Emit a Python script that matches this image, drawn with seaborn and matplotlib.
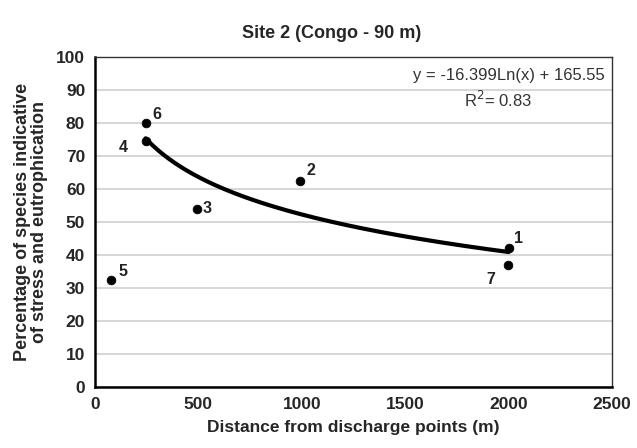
import matplotlib
matplotlib.use("Agg")
import matplotlib.pyplot as plt
import seaborn as sns
import numpy as np
import pandas as pd

# data
stations = ["1", "2", "3", "4", "5", "6", "7"]
distance = [2000, 990, 495, 245, 80, 245, 1995]
pct_species = [42, 62.5, 54, 74.5, 32.5, 80, 37]

# trendline as printed on the chart
slope, intercept = -16.399, 165.55
fit_start, fit_end = 245, 2000

# label offsets (points) for each station number
label_offsets = {"1": (4, 4), "2": (5, 4), "3": (4, -3), "4": (-19, -8),
                 "5": (5, 3), "6": (5, 3), "7": (-15, -14)}

df = pd.DataFrame({"station": stations, "distance": distance, "pct": pct_species})

sns.set_style("white")
plt.rcParams["font.family"] = ["Liberation Sans", "DejaVu Sans"]

fig = plt.figure(figsize=(6.37, 4.48), dpi=100)
ax = fig.add_axes([0.149, 0.136, 0.812, 0.737])

xs = np.linspace(fit_start, fit_end, 200)
ax.plot(xs, slope * np.log(xs) + intercept, color="black", lw=3, zorder=3)

sns.scatterplot(data=df, x="distance", y="pct", ax=ax, color="black", s=40,
                edgecolor="black", zorder=4, legend=False)

for _, r in df.iterrows():
    dx, dy = label_offsets[r["station"]]
    ax.annotate(r["station"], (r["distance"], r["pct"]), xytext=(dx, dy),
                textcoords="offset points", fontsize=11.5, fontweight="bold",
                color="#222222")

ax.text(0.985, 0.945, "y = -16.399Ln(x) + 165.55", transform=ax.transAxes,
        ha="right", va="center", fontsize=12, color="#333333")
ax.text(0.78, 0.87, "R$^2$= 0.83", transform=ax.transAxes,
        ha="center", va="center", fontsize=12, color="#333333")

ax.set_xlim(0, 2500)
ax.set_ylim(0, 100)
ax.set_xticks(range(0, 2501, 500))
ax.set_yticks(range(0, 101, 10))
ax.yaxis.grid(True, color="#d0d0d0", lw=1.2)
ax.set_axisbelow(True)

for side in ["left", "bottom"]:
    ax.spines[side].set_color("black")
    ax.spines[side].set_linewidth(1.8)
for side in ["top", "right"]:
    ax.spines[side].set_color("#333333")
    ax.spines[side].set_linewidth(1.0)

ax.tick_params(axis="both", direction="out", length=5, width=1.8, color="black",
               labelsize=12.5, pad=2)
for lbl in ax.get_xticklabels() + ax.get_yticklabels():
    lbl.set_fontweight("bold")

ax.set_xlabel("Distance from discharge points (m)", fontsize=12.5, fontweight="bold", labelpad=6)
ax.set_ylabel("Percentage of species indicative\nof stress and eutrophication",
              fontsize=13, fontweight="bold", labelpad=6, linespacing=1.0)
fig.text(0.52, 0.925, "Site 2 (Congo - 90 m)", ha="center", va="center",
         fontsize=13, fontweight="bold")

fig.savefig("out.png", dpi=100, facecolor="white")
